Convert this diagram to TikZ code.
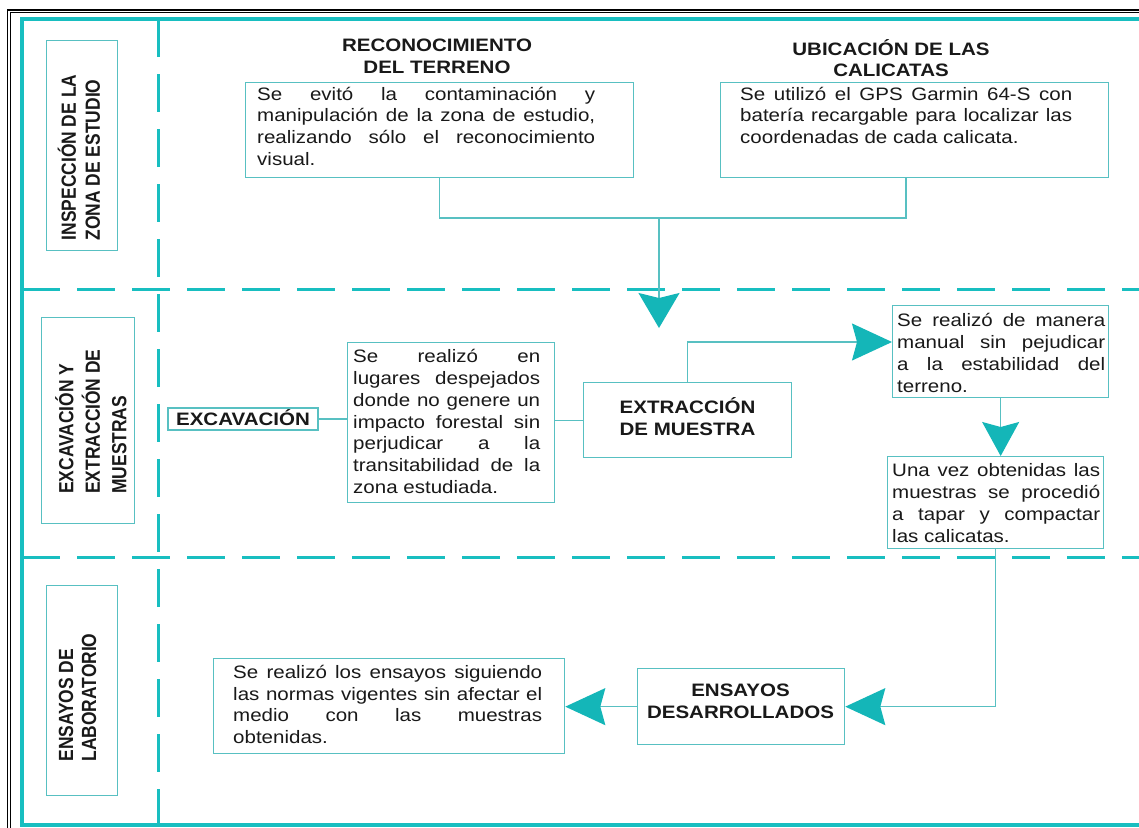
\documentclass[tikz,border=0pt]{standalone}
\usepackage{fontspec}
\setmainfont{Liberation Sans}[FakeStretch=1.14]
\newfontfamily\labfont{Liberation Sans}[FakeStretch=0.85]
\usetikzlibrary{arrows.meta}
\definecolor{framec}{RGB}{24,190,192}
\definecolor{boxc}{RGB}{88,192,194}
\definecolor{arrc}{RGB}{20,182,184}
\definecolor{txtc}{RGB}{25,25,25}
\newcommand\hs{\rule{0pt}{18pt}}
\tikzset{
  box/.style={draw=boxc, line width=1.3pt, rectangle, inner sep=0pt},
  body/.style={anchor=north west, inner sep=0pt, align=justify, text=txtc,
    font=\fontsize{18}{21.7}\selectfont,
    execute at begin node={\parindent=0pt\tolerance=10000\hbadness=10000\hyphenpenalty=10000}},
  title/.style={align=center, inner sep=0pt, text=txtc, font=\bfseries\fontsize{18}{21.7}\selectfont},
  labtxt/.style={rotate=90, align=left, inner sep=0pt, text=txtc},
  conn/.style={draw=boxc, line width=1.3pt},
  ahead/.style 2 args={-{Stealth[length=#1,width=#2,inset=5pt,color=arrc]}},
  dashln/.style={draw=framec, line width=3pt, dash pattern=on 38pt off 17pt}
}
\begin{document}
\begin{tikzpicture}[x=1pt,y=-1pt]
\useasboundingbox (0,0) rectangle (1139,827);
\fill[white] (0,0) rectangle (1139,827);
% outer frames
\draw[black, line width=1.2pt] (7.5,10) rectangle (1160,840);
\draw[black, line width=0.7pt] (10,12) rectangle (1160,840);
\draw[framec, line width=4.5pt] (22,19) rectangle (1160,825);
% lane separators
\draw[dashln] (158,19) -- (158,826);
\draw[dashln] (22,289) -- (1139,289);
\draw[dashln] (22,557) -- (1139,557);

% lane labels
\node[box, anchor=north west, minimum width=71pt, minimum height=210pt] (L1) at (46,40) {};
\node[labtxt, font=\labfont\bfseries\fontsize{20.5}{24}\selectfont] (L1t) at (79,157.5) {INSPECCIÓN DE LA\\ZONA DE ESTUDIO};
\node[box, anchor=north west, minimum width=93pt, minimum height=206pt] (L2) at (41,317) {};
\node[labtxt, font=\labfont\bfseries\fontsize{20.5}{26.5}\selectfont] (L2t) at (91,421.5) {EXCAVACIÓN Y\\EXTRACCIÓN DE\\MUESTRAS};
\node[box, anchor=north west, minimum width=71pt, minimum height=210pt] (L3) at (46,585) {};
\node[labtxt, font=\labfont\bfseries\fontsize{20.5}{23}\selectfont] (L3t) at (77.5,697.5) {ENSAYOS DE\\LABORATORIO};

% lane 1
\node[title, anchor=north] (T1) at (437,33.7) {\hs RECONOCIMIENTO\\DEL TERRENO};
\node[title, anchor=north] (T2) at (891,37) {\hs UBICACIÓN DE LAS\\CALICATAS};
\node[box, anchor=north west, minimum width=388pt, minimum height=95pt] (B1) at (245,82) {};
\node[body, text width=338pt] (t1) at (257,82) {\hs Se evitó la contaminación y\linebreak manipulación de la zona de estudio,\linebreak realizando sólo el reconocimiento\linebreak visual.};
\node[box, anchor=north west, minimum width=388pt, minimum height=95pt] (B2) at (720,82) {};
\node[body, text width=332pt] (t2) at (740,82) {\hs Se utilizó el GPS Garmin 64-S con\linebreak batería recargable para localizar las\linebreak coordenadas de cada calicata.};

% lane 2
\node[box, minimum width=150pt, minimum height=22pt, text height=12.9pt, text depth=0pt, text=txtc, font=\bfseries\fontsize{18}{21.7}\selectfont] (EXC) at (243,419) {EXCAVACIÓN};
\node[box, anchor=north west, minimum width=207pt, minimum height=160pt] (B6) at (347,342) {};
\node[body, text width=187pt] (t6) at (353,344.7) {\hs Se realizó en\linebreak lugares despejados\linebreak donde no genere un\linebreak impacto forestal sin\linebreak perjudicar a la\linebreak transitabilidad de la\linebreak zona estudiada.};
\node[box, anchor=north west, minimum width=208pt, minimum height=75pt] (EXT) at (583,382) {};
\node[title, anchor=north] (EXTt) at (687.5,395.3) {\hs EXTRACCIÓN\\DE MUESTRA};
\node[box, anchor=north west, minimum width=216pt, minimum height=92pt] (B3) at (892,305) {};
\node[body, text width=208pt] (t3) at (897,308.7) {\hs Se realizó de manera\linebreak manual sin pejudicar\linebreak a la estabilidad del\linebreak terreno.};
\node[box, anchor=north west, minimum width=216pt, minimum height=92pt] (B4) at (887,456) {};
\node[body, text width=208pt] (t4) at (892,458.7) {\hs Una vez obtenidas las\linebreak muestras se procedió\linebreak a tapar y compactar\linebreak las calicatas.};

% lane 3
\node[box, anchor=north west, minimum width=207pt, minimum height=76pt] (ENS) at (637,668) {};
\node[title, anchor=north] (ENSt) at (740.5,678.7) {\hs ENSAYOS\\DESARROLLADOS};
\node[box, anchor=north west, minimum width=351pt, minimum height=95pt] (B5) at (213,658) {};
\node[body, text width=309pt] (t5) at (233,660.3) {\hs Se realizó los ensayos siguiendo\linebreak las normas vigentes sin afectar el\linebreak medio con las muestras\linebreak obtenidas.};

% connectors
\coordinate (J1) at (659,218);
\coordinate (A1) at (659,328);
\coordinate (C2) at (687,342);
\draw[conn] (B1.south) |- (J1) -| ([xshift=186pt]B2.south west);
\draw[conn, ahead={35pt}{41pt}] (J1) -- (A1);
\draw[conn] (EXC.east) -- (B6.west |- EXC.east);
\draw[conn] (EXT.west) -- (B6.east |- EXT.west);
\draw[conn, ahead={40pt}{37pt}] (EXT.north) |- (B3.west |- C2);
\draw[conn, ahead={34pt}{37pt}] (B3.south) -- (B4.north -| B3.south);
\draw[conn, ahead={40pt}{37pt}] (B4.south) |- (ENS.east);
\draw[conn, ahead={40pt}{37pt}] (ENS.west) -- (B5.east |- ENS.west);
\end{tikzpicture}
\end{document}
